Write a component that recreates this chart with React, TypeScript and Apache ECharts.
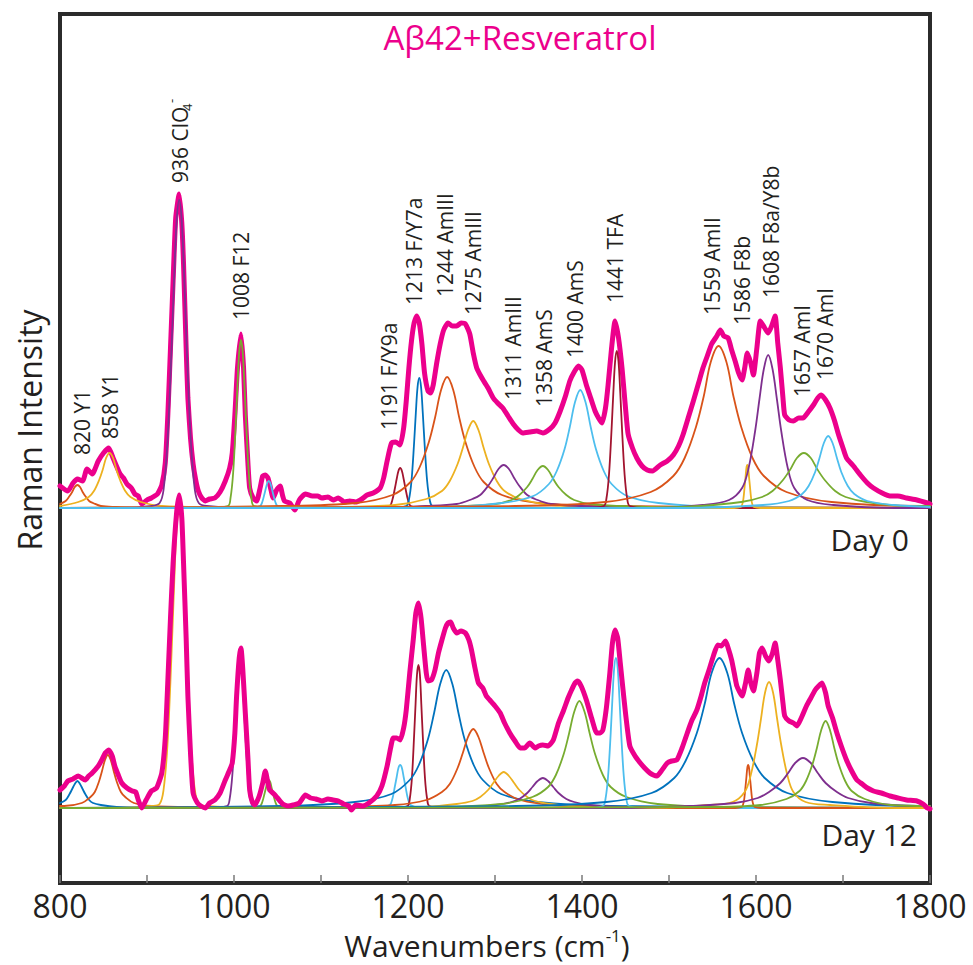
import React, { useEffect, useRef } from 'react';
import * as echarts from 'echarts';

// ---------- data (wavenumber cm-1, intensity a.u.) ----------
const xTicks = [800, 1000, 1200, 1400, 1600, 1800];

const day0Spectrum: number[][] = [
  [800,0.22],[809,0.17],[815,0.25],[820,0.29],[826,0.27],[831,0.39],[837,0.34],[844,0.47],[850,0.55],[856,0.60],[861,0.50],[869,0.34],[873,0.30],[877,0.24],[882,0.20],[886,0.14],[890,0.12],[894,0.04],[900,0.08],[905,0.10],[912,0.14],[917,0.23],[921,0.45],[924,0.94],[927,1.6],[930,2.27],[933,2.9],[937,3.14],[940,2.85],[942,2.44],[945,1.6],[947,1.10],[950,0.7],[953,0.44],[956,0.28],[959,0.17],[963,0.1],[967,0.07],[972,0.09],[978,0.10],[984,0.16],[990,0.27],[995,0.40],[998,0.55],[1001,0.93],[1004,1.4],[1008,1.74],[1011,1.4],[1013,0.93],[1016,0.45],[1018,0.20],[1022,0.1],[1026,0.07],[1030,0.2],[1033,0.32],[1036,0.33],[1039,0.30],[1042,0.2],[1045,0.10],[1049,0.18],[1053,0.22],[1056,0.12],[1058,0.07],[1064,0.05],[1070,-0.02],[1075,0.08],[1082,0.14],[1090,0.12],[1096,0.12],[1101,0.10],[1108,0.11],[1114,0.08],[1120,0.10],[1127,0.06],[1133,0.07],[1140,0.06],[1147,0.09],[1153,0.13],[1160,0.15],[1168,0.20],[1172,0.3],[1176,0.47],[1181,0.65],[1186,0.66],[1191,0.63],[1195,0.8],[1198,1.07],[1201,1.4],[1204,1.67],[1207,1.85],[1210,1.92],[1213,1.85],[1216,1.64],[1219,1.35],[1223,1.17],[1226,1.15],[1229,1.23],[1233,1.45],[1237,1.64],[1241,1.78],[1246,1.85],[1251,1.82],[1256,1.82],[1261,1.85],[1266,1.84],[1271,1.74],[1275,1.55],[1279,1.40],[1283,1.33],[1287,1.27],[1292,1.20],[1298,1.10],[1303,1.05],[1309,1.00],[1315,0.92],[1321,0.84],[1327,0.78],[1332,0.75],[1340,0.76],[1348,0.77],[1355,0.75],[1363,0.79],[1369,0.85],[1375,0.97],[1381,1.12],[1386,1.27],[1391,1.36],[1396,1.42],[1400,1.38],[1405,1.23],[1410,1.1],[1415,0.97],[1419,0.9],[1423,0.85],[1427,1.0],[1430,1.23],[1434,1.6],[1438,1.87],[1442,1.7],[1446,1.40],[1450,1.0],[1453,0.74],[1458,0.6],[1463,0.50],[1469,0.42],[1475,0.38],[1481,0.37],[1490,0.43],[1498,0.47],[1505,0.53],[1511,0.62],[1516,0.73],[1522,0.9],[1528,1.07],[1534,1.25],[1539,1.40],[1544,1.52],[1549,1.64],[1555,1.72],[1559,1.78],[1563,1.72],[1568,1.70],[1572,1.58],[1576,1.47],[1580,1.35],[1584,1.28],[1587,1.40],[1590,1.55],[1594,1.45],[1597,1.33],[1601,1.6],[1605,1.87],[1610,1.80],[1614,1.75],[1618,1.82],[1622,1.92],[1625,1.65],[1628,1.40],[1631,1.1],[1633,0.93],[1638,0.88],[1643,0.87],[1649,0.90],[1654,0.90],[1660,0.96],[1666,1.03],[1671,1.10],[1675,1.13],[1680,1.08],[1685,1.00],[1690,0.88],[1695,0.73],[1700,0.60],[1704,0.50],[1712,0.42],[1720,0.33],[1728,0.25],[1735,0.20],[1745,0.15],[1754,0.12],[1763,0.12],[1773,0.10],[1785,0.08],[1797,0.05],[1800,0.04]
];

const day12Spectrum: number[][] = [
  [800,0.18],[805,0.22],[809,0.27],[815,0.29],[821,0.32],[829,0.28],[833,0.32],[837,0.35],[844,0.42],[848,0.48],[852,0.55],[856,0.58],[860,0.52],[863,0.42],[867,0.33],[871,0.25],[877,0.20],[883,0.17],[887,0.16],[890,0.08],[894,0.0],[899,0.08],[905,0.17],[911,0.20],[917,0.35],[921,0.7],[924,1.28],[927,1.9],[930,2.45],[934,2.95],[937,3.13],[940,2.9],[942,2.45],[945,1.7],[947,1.12],[950,0.55],[953,0.15],[958,0.05],[962,0.02],[967,0.0],[972,0.05],[978,0.08],[984,0.15],[990,0.28],[995,0.38],[998,0.45],[1001,0.75],[1003,1.12],[1006,1.5],[1008,1.60],[1010,1.4],[1013,0.95],[1016,0.5],[1018,0.18],[1021,0.06],[1024,0.03],[1029,0.12],[1033,0.25],[1036,0.37],[1039,0.25],[1041,0.18],[1046,0.14],[1050,0.10],[1056,0.04],[1062,0.02],[1068,0.03],[1075,0.05],[1082,0.13],[1088,0.10],[1094,0.09],[1101,0.07],[1108,0.09],[1114,0.08],[1120,0.07],[1126,0.04],[1132,0.02],[1135,-0.02],[1140,0.03],[1148,0.02],[1155,0.05],[1164,0.12],[1170,0.22],[1176,0.42],[1180,0.6],[1183,0.70],[1187,0.70],[1191,0.68],[1195,0.8],[1198,0.98],[1202,1.35],[1206,1.68],[1209,1.95],[1212,2.05],[1215,1.9],[1218,1.62],[1221,1.35],[1223,1.27],[1227,1.28],[1231,1.38],[1235,1.55],[1239,1.68],[1243,1.80],[1246,1.85],[1249,1.86],[1252,1.80],[1256,1.75],[1261,1.77],[1266,1.75],[1270,1.68],[1273,1.58],[1277,1.40],[1281,1.25],[1286,1.20],[1290,1.12],[1294,1.08],[1300,1.02],[1306,0.95],[1311,0.85],[1317,0.75],[1323,0.67],[1329,0.60],[1334,0.60],[1340,0.65],[1346,0.60],[1350,0.62],[1355,0.63],[1361,0.62],[1367,0.68],[1373,0.85],[1379,0.98],[1384,1.1],[1388,1.18],[1392,1.25],[1395,1.27],[1399,1.22],[1405,1.08],[1411,0.90],[1417,0.75],[1421,0.75],[1424,0.78],[1428,1.0],[1432,1.35],[1435,1.65],[1438,1.78],[1441,1.7],[1444,1.45],[1446,1.28],[1450,0.95],[1455,0.62],[1461,0.52],[1467,0.45],[1472,0.40],[1478,0.35],[1482,0.33],[1486,0.32],[1492,0.38],[1498,0.45],[1503,0.47],[1509,0.48],[1515,0.6],[1521,0.75],[1526,0.87],[1532,0.98],[1537,1.12],[1541,1.25],[1546,1.38],[1551,1.52],[1556,1.63],[1560,1.62],[1565,1.67],[1568,1.6],[1572,1.48],[1575,1.35],[1578,1.22],[1584,1.12],[1588,1.25],[1591,1.38],[1594,1.25],[1597,1.17],[1601,1.35],[1604,1.55],[1607,1.60],[1611,1.52],[1615,1.47],[1619,1.55],[1622,1.65],[1625,1.48],[1628,1.28],[1631,1.05],[1633,0.92],[1638,0.87],[1643,0.85],[1647,0.82],[1652,0.9],[1658,1.02],[1663,1.10],[1668,1.18],[1672,1.22],[1676,1.25],[1680,1.15],[1683,1.02],[1688,0.9],[1693,0.75],[1698,0.62],[1704,0.48],[1710,0.37],[1716,0.28],[1722,0.24],[1728,0.2],[1735,0.17],[1744,0.15],[1754,0.12],[1763,0.1],[1773,0.08],[1785,0.07],[1792,0.04],[1797,0.0],[1800,-0.01]
];

// fitted bands, Day 0
const day0Bands: number[][][] = [
  [[800,0.04],[806.5,0.07],[811,0.12],[814,0.16],[817,0.21],[820,0.23],[823,0.21],[826,0.16],[829,0.12],[833.5,0.07],[838,0.05],[847,0.02],[865,0.01],[900,0],[1800,0]],
  [[800,0.02],[821,0.06],[833,0.11],[839,0.17],[845,0.28],[849,0.38],[853,0.5],[857,0.55],[861,0.5],[865,0.38],[869,0.28],[875,0.17],[881,0.11],[893,0.06],[917,0.02],[965,0.01],[1800,0]],
  [[800,0],[870,0],[905.5,0.02],[914.5,0.05],[919,0.18],[923.5,0.65],[928,1.54],[931,2.25],[934,2.86],[937,3.08],[940,2.86],[943,2.25],[946,1.54],[950.5,0.65],[955,0.18],[959.5,0.05],[968.5,0.02],[1010,0],[1800,0]],
  [[800,0],[970,0],[993,0.02],[996,0.1],[999,0.35],[1002,0.84],[1004,1.23],[1006,1.56],[1008,1.68],[1010,1.56],[1012,1.23],[1014,0.84],[1017,0.35],[1020,0.1],[1023,0.02],[1045,0],[1800,0]],
  [[800,0],[1020,0],[1030,0.02],[1032.5,0.06],[1035,0.14],[1036.7,0.2],[1038.3,0.25],[1040,0.27],[1041.7,0.25],[1043.3,0.2],[1045,0.14],[1047.5,0.06],[1050,0.02],[1060,0],[1800,0]],
  [[800,0],[1165,0],[1179,0.02],[1182,0.08],[1185,0.2],[1187,0.29],[1189,0.37],[1191,0.4],[1193,0.37],[1195,0.29],[1197,0.2],[1200,0.08],[1203,0.02],[1217,0],[1800,0]],
  [[800,0],[1180,0],[1198,0.02],[1201,0.08],[1204,0.27],[1207,0.65],[1209,0.95],[1211,1.21],[1213,1.3],[1215,1.21],[1217,0.95],[1219,0.65],[1222,0.27],[1225,0.08],[1228,0.02],[1246,0],[1800,0]],
  [[800,0],[1056,0.02],[1140,0.05],[1182,0.13],[1203,0.26],[1213.5,0.41],[1224,0.66],[1231,0.9],[1238,1.18],[1245,1.31],[1252,1.18],[1259,0.9],[1266,0.66],[1276.5,0.41],[1287,0.26],[1308,0.13],[1350,0.05],[1434,0.02],[1800,0]],
  [[800,0],[1113,0.01],[1185,0.03],[1221,0.09],[1239,0.17],[1248,0.27],[1257,0.44],[1263,0.6],[1269,0.78],[1275,0.87],[1281,0.78],[1287,0.6],[1293,0.44],[1302,0.27],[1311,0.17],[1329,0.09],[1365,0.03],[1437,0.01],[1800,0]],
  [[800,0],[1150,0],[1220,0.02],[1256,0.04],[1274,0.09],[1283,0.13],[1292,0.22],[1298,0.3],[1304,0.39],[1310,0.43],[1316,0.39],[1322,0.3],[1328,0.22],[1337,0.13],[1346,0.09],[1364,0.04],[1400,0.02],[1480,0],[1800,0]],
  [[800,0],[1195,0],[1265,0.02],[1301,0.04],[1319,0.08],[1328,0.13],[1337,0.21],[1343,0.29],[1349,0.38],[1355,0.42],[1361,0.38],[1367,0.29],[1373,0.21],[1382,0.13],[1391,0.08],[1409,0.04],[1445,0.02],[1525,0],[1800,0]],
  [[800,0],[1236,0.01],[1308,0.05],[1344,0.12],[1362,0.24],[1371,0.37],[1380,0.59],[1386,0.81],[1392,1.06],[1398,1.18],[1404,1.06],[1410,0.81],[1416,0.59],[1425,0.37],[1434,0.24],[1452,0.12],[1488,0.05],[1560,0.01],[1800,0]],
  [[800,0],[1405,0],[1425,0.02],[1428,0.09],[1431,0.33],[1434,0.79],[1436,1.15],[1438,1.46],[1440,1.57],[1442,1.46],[1444,1.15],[1446,0.79],[1449,0.33],[1452,0.09],[1455,0.02],[1475,0],[1800,0]],
  [[800,0],[1323,0.02],[1427,0.06],[1479,0.16],[1505,0.32],[1518,0.5],[1531,0.81],[1540,1.12],[1548,1.46],[1557,1.62],[1566,1.46],[1574,1.12],[1583,0.81],[1596,0.5],[1609,0.32],[1635,0.16],[1687,0.06],[1791,0.02],[1800,0.02]],
  [[800,0],[1575,0],[1582.5,0.01],[1584,0.03],[1585.5,0.09],[1587,0.22],[1588,0.31],[1589,0.4],[1590,0.43],[1591,0.4],[1592,0.31],[1593,0.22],[1594.5,0.09],[1596,0.03],[1597.5,0.01],[1605,0],[1800,0]],
  [[800,0],[1480,0],[1539,0.03],[1569,0.08],[1584,0.2],[1591.5,0.4],[1599,0.77],[1604,1.09],[1609,1.39],[1614,1.53],[1619,1.39],[1624,1.09],[1629,0.77],[1636.5,0.4],[1644,0.2],[1659,0.08],[1689,0.03],[1760,0],[1800,0]],
  [[800,0],[1460,0],[1535,0.02],[1583,0.06],[1607,0.11],[1619,0.17],[1631,0.28],[1639,0.38],[1647,0.5],[1655,0.55],[1663,0.5],[1671,0.38],[1679,0.28],[1691,0.17],[1703,0.11],[1727,0.06],[1775,0.02],[1800,0.02]],
  [[800,0],[1520,0],[1608,0.03],[1638,0.07],[1653,0.14],[1660.5,0.22],[1668,0.36],[1673,0.5],[1678,0.65],[1683,0.72],[1688,0.65],[1693,0.5],[1698,0.36],[1705.5,0.22],[1713,0.14],[1728,0.07],[1758,0.03],[1800,0.01]]
];

// fitted bands, Day 12
const day12Bands: number[][][] = [
  [[800,0.05],[806.5,0.08],[811,0.14],[814,0.19],[817,0.24],[820,0.27],[823,0.24],[826,0.19],[829,0.14],[833.5,0.08],[838,0.05],[847,0.03],[865,0.01],[900,0],[1800,0]],
  [[800,0.02],[805,0.02],[825,0.05],[835,0.11],[840,0.16],[845,0.27],[848.3,0.37],[851.7,0.48],[855,0.53],[858.3,0.48],[861.7,0.37],[865,0.27],[870,0.16],[875,0.11],[885,0.05],[905,0.02],[950,0.01],[1800,0]],
  [[800,0],[870,0],[905.5,0.02],[914.5,0.04],[919,0.18],[923.5,0.63],[928,1.5],[931,2.19],[934,2.79],[937,3.0],[940,2.79],[943,2.19],[946,1.5],[950.5,0.63],[955,0.18],[959.5,0.04],[968.5,0.02],[1010,0],[1800,0]],
  [[800,0],[970,0],[992,0.02],[995,0.09],[998,0.32],[1001,0.75],[1003,1.1],[1005,1.4],[1007,1.5],[1009,1.4],[1011,1.1],[1013,0.75],[1016,0.32],[1019,0.09],[1022,0.02],[1045,0],[1800,0]],
  [[800,0],[1020,0],[1030,0.02],[1032.5,0.06],[1035,0.14],[1036.7,0.2],[1038.3,0.26],[1040,0.28],[1041.7,0.26],[1043.3,0.2],[1045,0.14],[1047.5,0.06],[1050,0.02],[1060,0],[1800,0]],
  [[800,0],[1165,0],[1179,0.03],[1182,0.09],[1185,0.22],[1187,0.31],[1189,0.4],[1191,0.43],[1193,0.4],[1195,0.31],[1197,0.22],[1200,0.09],[1203,0.03],[1217,0],[1800,0]],
  [[800,0],[1185,0],[1199.5,0.02],[1202,0.09],[1204.5,0.3],[1207,0.72],[1208.7,1.04],[1210.3,1.33],[1212,1.43],[1213.7,1.33],[1215.3,1.04],[1217,0.72],[1219.5,0.3],[1222,0.09],[1224.5,0.02],[1240,0],[1800,0]],
  [[800,0],[1055,0.02],[1139,0.06],[1181,0.14],[1202,0.28],[1212.5,0.43],[1223,0.69],[1230,0.95],[1237,1.24],[1244,1.38],[1251,1.24],[1258,0.95],[1265,0.69],[1275.5,0.43],[1286,0.28],[1307,0.14],[1349,0.06],[1433,0.02],[1800,0]],
  [[800,0],[1113,0.01],[1185,0.03],[1221,0.08],[1239,0.16],[1248,0.24],[1257,0.4],[1263,0.55],[1269,0.71],[1275,0.79],[1281,0.71],[1287,0.55],[1293,0.4],[1302,0.24],[1311,0.16],[1329,0.08],[1365,0.03],[1437,0.01],[1800,0]],
  [[800,0],[1150,0],[1220,0.01],[1256,0.04],[1274,0.07],[1283,0.11],[1292,0.18],[1298,0.25],[1304,0.32],[1310,0.36],[1316,0.32],[1322,0.25],[1328,0.18],[1337,0.11],[1346,0.07],[1364,0.04],[1400,0.01],[1480,0],[1800,0]],
  [[800,0],[1195,0],[1265,0.01],[1301,0.03],[1319,0.06],[1328,0.09],[1337,0.15],[1343,0.21],[1349,0.27],[1355,0.3],[1361,0.27],[1367,0.21],[1373,0.15],[1382,0.09],[1391,0.06],[1409,0.03],[1445,0.01],[1525,0],[1800,0]],
  [[800,0],[1235,0.01],[1307,0.04],[1343,0.11],[1361,0.21],[1370,0.33],[1379,0.54],[1385,0.74],[1391,0.96],[1397,1.07],[1403,0.96],[1409,0.74],[1415,0.54],[1424,0.33],[1433,0.21],[1451,0.11],[1487,0.04],[1559,0.01],[1800,0]],
  [[800,0],[1404,0],[1424,0.02],[1427,0.09],[1430,0.32],[1433,0.75],[1435,1.1],[1437,1.4],[1439,1.5],[1441,1.4],[1443,1.1],[1445,0.75],[1448,0.32],[1451,0.09],[1454,0.02],[1474,0],[1800,0]],
  [[800,0],[1324,0.02],[1428,0.06],[1480,0.15],[1506,0.3],[1519,0.47],[1532,0.75],[1541,1.04],[1549,1.35],[1558,1.5],[1567,1.35],[1575,1.04],[1584,0.75],[1597,0.47],[1610,0.3],[1636,0.15],[1688,0.06],[1792,0.02],[1800,0.02]],
  [[800,0],[1576,0],[1583.5,0.01],[1585,0.03],[1586.5,0.09],[1588,0.22],[1589,0.31],[1590,0.4],[1591,0.43],[1592,0.4],[1593,0.31],[1594,0.22],[1595.5,0.09],[1597,0.03],[1598.5,0.01],[1606,0],[1800,0]],
  [[800,0],[1480,0],[1545,0.03],[1573,0.06],[1587,0.16],[1594,0.33],[1601,0.63],[1605.7,0.89],[1610.3,1.15],[1615,1.26],[1619.7,1.15],[1624.3,0.89],[1629,0.63],[1636,0.33],[1643,0.16],[1657,0.06],[1685,0.03],[1760,0],[1800,0]],
  [[800,0],[1440,0],[1524,0.02],[1576,0.05],[1602,0.1],[1615,0.16],[1628,0.25],[1637,0.35],[1645,0.45],[1654,0.5],[1663,0.45],[1671,0.35],[1680,0.25],[1693,0.16],[1706,0.1],[1732,0.05],[1784,0.02],[1800,0.02]],
  [[800,0],[1545,0.01],[1605,0.03],[1635,0.09],[1650,0.17],[1657.5,0.27],[1665,0.44],[1670,0.6],[1675,0.78],[1680,0.87],[1685,0.78],[1690,0.6],[1695,0.44],[1702.5,0.27],[1710,0.17],[1725,0.09],[1755,0.03],[1800,0.02]]
];

const peakLabels = [
  '820 Y1', '858 Y1', '1008 F12', '1191 F/Y9a', '1213 F/Y7a', '1244 AmIII', '1275 AmIII',
  '1311 AmIII', '1358 AmS', '1400 AmS', '1441 TFA', '1559 AmII', '1586 F8b',
  '1608 F8a/Y8b', '1657 AmI', '1670 AmI'
];

// ---------- layout / style ----------
const W = 973, H = 965;
const MAGENTA = '#EC008C';
const PAL: Record<string, string> = {
  blue: '#0072BD', orange: '#D95319', yellow: '#EDB120', purple: '#7E2F8E',
  green: '#77AC30', cyan: '#4DBEEE', darkred: '#A2142F'
};
const day0BandColors = ['orange','yellow','purple','green','cyan','darkred','blue','orange','yellow','purple','green','cyan','darkred','orange','yellow','purple','green','cyan'];
const day12BandColors = ['blue','orange','yellow','purple','green','cyan','darkred','blue','orange','yellow','purple','green','cyan','blue','orange','yellow','purple','green'];
const DAY0_OFFSET = 3.0;
const DAY12_OFFSET = 0;
// pixel anchors (x centre, bottom y) of the rotated peak labels
const peakLabelPos = [
  [82,455],[110,439],[241,320],[389,430],[414,305],[445,297],[473,315],
  [513,400],[544,407],[575,358],[615,303],[712,315],[742,325],
  [771,298],[802,397],[825,380]
];
const FONT = 'Open Sans';
const TXT = '#231f20';

function lineSeries(points: number[][], offset: number, color: string, width: number, smooth: number) {
  return {
    type: 'line',
    data: points.map(([x, y]) => [x, y + offset]),
    showSymbol: false,
    symbol: 'none',
    smooth,
    silent: true,
    clip: true,
    lineStyle: { color, width, cap: 'round', join: 'round' },
    itemStyle: { color },
  };
}

export default function App() {
  const ref = useRef<HTMLDivElement>(null);
  useEffect(() => {
    if (!ref.current) return;
    const chart = echarts.init(ref.current, undefined, { renderer: 'svg' });

    const series: any[] = [];
    series.push(lineSeries(day0Spectrum, DAY0_OFFSET, MAGENTA, 5, 0.18));
    day0Bands.forEach((b, i) => series.push(lineSeries(b, DAY0_OFFSET, PAL[day0BandColors[i]], 1.8, 0.35)));
    day12Bands.forEach((b, i) => series.push(lineSeries(b, DAY12_OFFSET, PAL[day12BandColors[i]], 1.8, 0.35)));
    series.push(lineSeries(day12Spectrum, DAY12_OFFSET, MAGENTA, 5, 0.18));

    const labelEls: any[] = peakLabels.map((t, i) => ({
      type: 'group',
      x: peakLabelPos[i][0],
      y: peakLabelPos[i][1],
      rotation: Math.PI / 2,
      children: [{
        type: 'text', x: 0, y: 0,
        style: { text: t, fontSize: 21, fontFamily: FONT, fill: TXT, align: 'left', verticalAlign: 'middle' }
      }]
    }));
    labelEls.push({
      type: 'group', x: 180, y: 183, rotation: Math.PI / 2,
      children: [
        { type: 'text', x: 0, y: 0, style: { text: '936 ClO', fontSize: 21, fontFamily: FONT, fill: TXT, align: 'left', verticalAlign: 'middle' } },
        { type: 'text', x: 72, y: 7, style: { text: '4', fontSize: 13, fontFamily: FONT, fill: TXT, align: 'left', verticalAlign: 'middle' } },
        { type: 'text', x: 80, y: -9, style: { text: '-', fontSize: 13, fontFamily: FONT, fill: TXT, align: 'left', verticalAlign: 'middle' } },
      ]
    });

    const graphics: any[] = [
      ...labelEls,
      { type: 'text', x: 520, y: 37, style: { text: 'A\u03b242+Resveratrol', fontSize: 33, fontFamily: FONT, fill: MAGENTA, align: 'center', verticalAlign: 'middle' } },
      { type: 'text', x: 909, y: 539, style: { text: 'Day 0', fontSize: 30, fontFamily: FONT, fill: TXT, align: 'right', verticalAlign: 'middle' } },
      { type: 'text', x: 917, y: 834, style: { text: 'Day 12', fontSize: 30, fontFamily: FONT, fill: TXT, align: 'right', verticalAlign: 'middle' } },
      { type: 'group', x: 29, y: 430, rotation: Math.PI / 2, children: [
        { type: 'text', x: 0, y: 0, style: { text: 'Raman Intensity', fontSize: 32, fontFamily: FONT, fill: TXT, align: 'center', verticalAlign: 'middle' } }
      ] },
      { type: 'text', x: 487, y: 945, style: {
        text: '{a|Wavenumbers (cm}{s|-1}{a|)}',
        align: 'center', verticalAlign: 'middle', fill: TXT, fontFamily: FONT,
        rich: {
          a: { fontSize: 30, fontFamily: FONT, fill: TXT, lineHeight: 36 },
          s: { fontSize: 17, fontFamily: FONT, fill: TXT, verticalAlign: 'top', lineHeight: 36 }
        }
      } },
    ];

    chart.setOption({
      animation: false,
      backgroundColor: '#ffffff',
      grid: { left: 60, right: 43, top: 14, bottom: 82, show: true, borderColor: '#2b2b2b', borderWidth: 4, backgroundColor: 'transparent' },
      xAxis: {
        type: 'value', min: 800, max: 1800, interval: 100,
        axisLine: { show: true, onZero: false, lineStyle: { color: '#2b2b2b', width: 4 } },
        axisTick: { show: true, inside: true, length: 8, lineStyle: { color: '#7a7a7a', width: 1.5 } },
        axisLabel: {
          fontSize: 32, fontFamily: FONT, color: TXT, margin: 6,
          formatter: (v: number) => (xTicks.indexOf(v) >= 0 ? String(v) : '')
        },
        splitLine: { show: false },
      },
      yAxis: {
        type: 'value', min: -0.75, max: 7.94,
        axisLine: { show: true, onZero: false, lineStyle: { color: '#2b2b2b', width: 4 } },
        axisTick: { show: false }, axisLabel: { show: false }, splitLine: { show: false },
      },
      series,
      graphic: graphics,
    });
    return () => chart.dispose();
  }, []);
  return <div ref={ref} style={{ position: 'absolute', left: 0, top: 0, width: W, height: H, background: '#fff' }} />;
}
